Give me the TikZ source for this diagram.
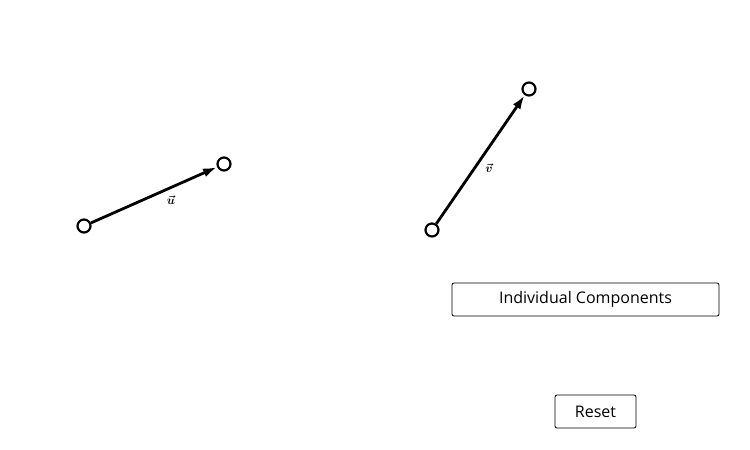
\documentclass[tikz,border=0pt]{standalone}
\usepackage{amsmath,amssymb,bm}
\usepackage{fontspec}
\setsansfont{Open Sans}
\usetikzlibrary{arrows.meta}
\begin{document}
\begin{tikzpicture}[x=1pt,y=-1pt,
  pt/.style={circle,draw,line width=2.2pt,minimum size=13pt,inner sep=0pt,fill=white},
  vec/.style={line width=2.8pt,-{Latex[length=14pt,width=9pt]}},
  btn/.style={draw,rounded corners=2pt,line width=0.8pt,font=\sffamily\fontsize{16}{18}\selectfont,inner sep=0pt}]
\useasboundingbox (0,0) rectangle (750,450);
\node[pt] (a) at (84,226) {};
\node[pt] (b) at (224,164) {};
\node[pt] (c) at (432,230) {};
\node[pt] (d) at (529,89) {};
\draw[vec] (a) -- (b);
\draw[vec] (c) -- (d);
\node (lu) at (171,200) {\large$\bm{\vec u}$};
\node (lv) at (489,168) {\large$\bm{\vec v}$};
\node[btn,minimum width=267pt,minimum height=33pt] (ic) at (585.5,299.5) {Individual Components};
\node[btn,minimum width=81pt,minimum height=33pt] (rs) at (595.5,411.5) {Reset};
\end{tikzpicture}
\end{document}
